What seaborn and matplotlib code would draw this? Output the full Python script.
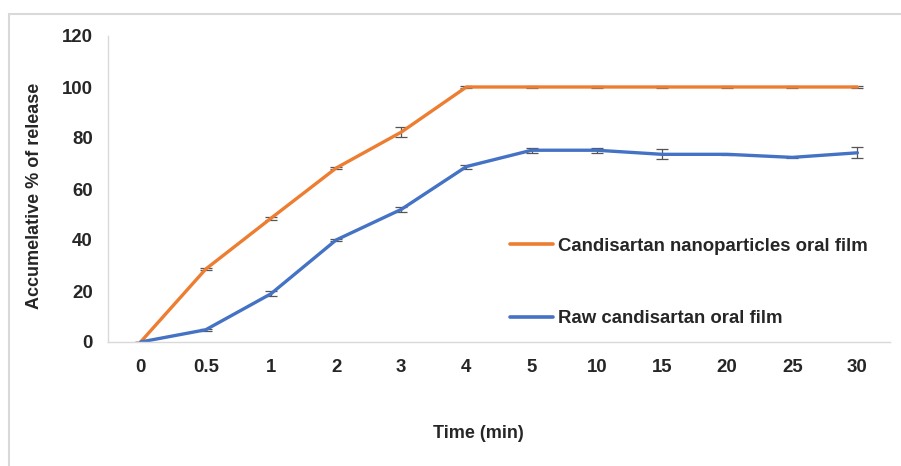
import matplotlib
matplotlib.use("Agg")
import matplotlib.pyplot as plt
import matplotlib.patches as mpatches
import seaborn as sns
import pandas as pd

time_labels = ["0", "0.5", "1", "2", "3", "4", "5", "10", "15", "20", "25", "30"]
nano_release = [0, 28.6, 48.5, 68.2, 82.3, 100, 100, 100, 100, 100, 100, 100]
nano_err = [0, 0.5, 0.5, 0.5, 2.0, 0.3, 0.2, 0.2, 0.2, 0.2, 0.2, 0.3]
raw_release = [0, 4.8, 18.9, 40.0, 52.0, 68.8, 75.2, 75.2, 73.6, 73.6, 72.4, 74.2]
raw_err = [0, 0.3, 1.0, 0.5, 1.0, 0.8, 1.0, 1.0, 2.0, 0.3, 0.3, 2.2]

nano_name = "Candisartan nanoparticles oral film"
raw_name = "Raw candisartan oral film"

df = pd.DataFrame({
    "time": time_labels * 2,
    "release": nano_release + raw_release,
    "err": nano_err + raw_err,
    "series": [nano_name] * len(time_labels) + [raw_name] * len(time_labels),
})

sns.set_theme(style="white")
plt.rcParams["font.family"] = ["Liberation Sans", "DejaVu Sans"]
plt.rcParams["font.weight"] = "bold"

fig = plt.figure(figsize=(9.01, 4.66), dpi=100)
ax = fig.add_axes([108 / 901, 1 - 342 / 466, (890 - 108) / 901, (342 - 36) / 466])

palette = {nano_name: "#ED7D31", raw_name: "#4472C4"}
sns.lineplot(data=df, x="time", y="release", hue="series", palette=palette,
             linewidth=2.4, ax=ax, legend=True, sort=False)

for name in (nano_name, raw_name):
    sub = df[df["series"] == name]
    ax.errorbar(sub["time"], sub["release"], yerr=sub["err"], fmt="none",
                ecolor="#555555", elinewidth=0.9, capsize=4, capthick=0.9, zorder=1)

ax.set_xlim(-0.5, len(time_labels) - 0.5)
ax.set_ylim(0, 120)
ax.set_yticks(range(0, 121, 20))
ax.tick_params(axis="both", length=0, labelsize=13.4)
for lab in ax.get_xticklabels() + ax.get_yticklabels():
    lab.set_fontweight("bold")
ax.tick_params(axis="x", pad=12)
ax.tick_params(axis="y", pad=11)

for side in ("top", "right"):
    ax.spines[side].set_visible(False)
for side in ("left", "bottom"):
    ax.spines[side].set_color("#d9d9d9")
    ax.spines[side].set_linewidth(1.0)

ax.set_xlabel("Time (min)", fontsize=13, fontweight="bold")
ax.set_ylabel("Accumelative % of release", fontsize=13, fontweight="bold")
ax.xaxis.set_label_coords((478 - 108) / 782, -(433 - 342) / 306)
ax.yaxis.set_label_coords(-(108 - 35) / 782, 0.5 - 7 / 306)
ax.xaxis.label.set_va("center")
ax.yaxis.label.set_va("center")

leg = ax.legend(loc="center left", bbox_to_anchor=((493 - 108) / 782, (342 - 282.5) / 306),
                frameon=False, fontsize=13.4, handlelength=2.3, handletextpad=0.3,
                labelspacing=3.0)
for line in leg.get_lines():
    line.set_linewidth(2.6)
for t in leg.get_texts():
    t.set_fontweight("bold")

# light frame around the whole chart area
fig.patches.append(mpatches.Rectangle((9 / 901, -0.1), 1.2, 1 - 14 / 466 + 0.1,
                                      transform=fig.transFigure, fill=False,
                                      edgecolor="#d9d9d9", linewidth=1.5))

fig.savefig("out.png", dpi=100)
